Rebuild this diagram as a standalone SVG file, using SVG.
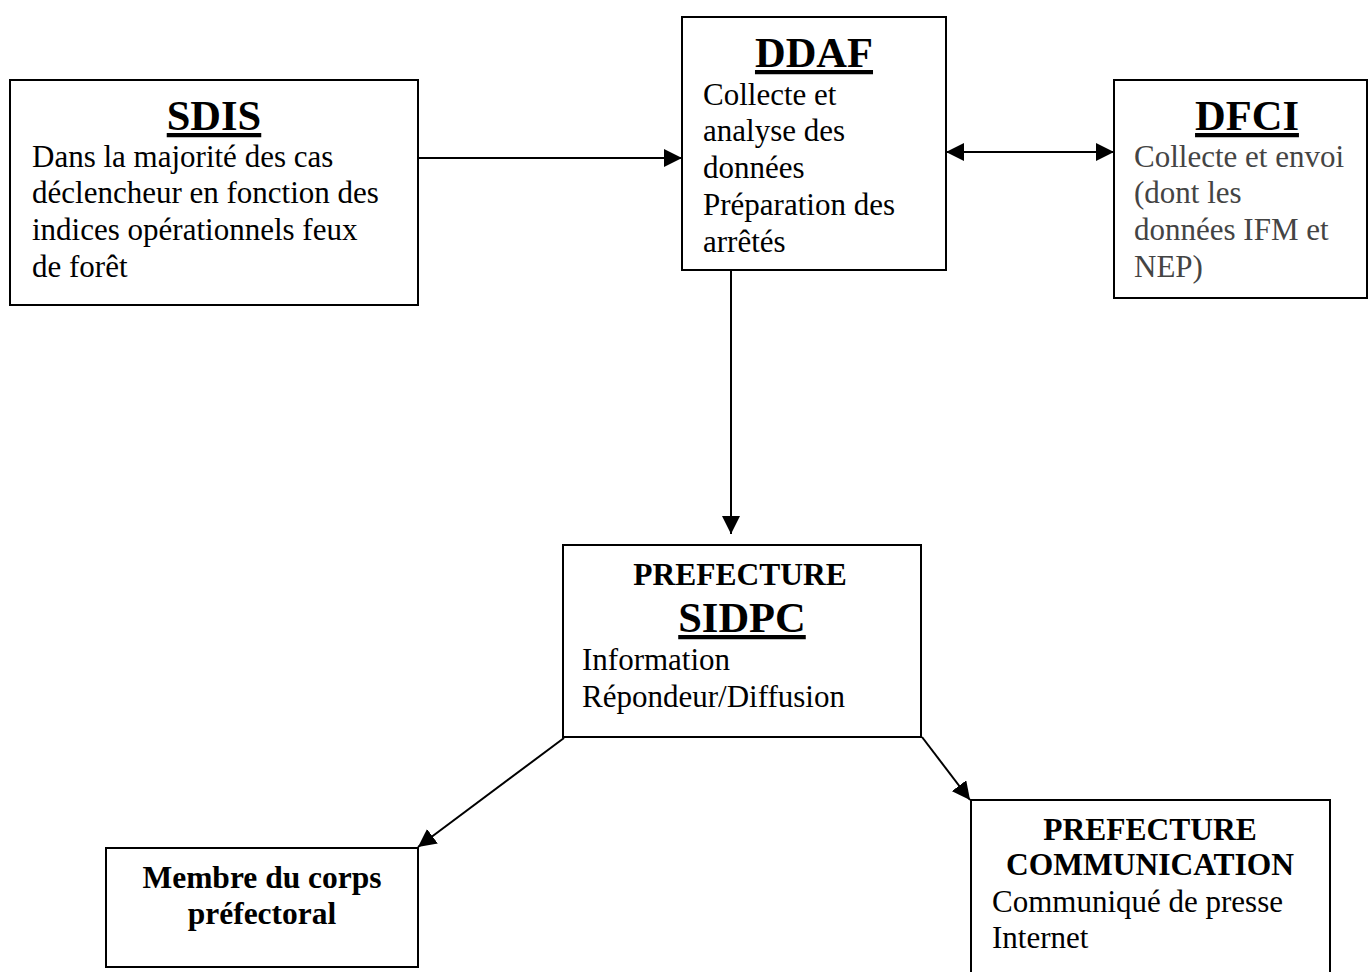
<svg xmlns="http://www.w3.org/2000/svg" width="1369" height="972" viewBox="0 0 1369 972">
<style>
.box{fill:#fff;stroke:#000;stroke-width:2}
text{font-family:"Liberation Serif","Times New Roman",serif;fill:#000}
.t{font-size:42.5px;font-weight:bold;text-decoration:underline;text-anchor:middle}
.b{font-size:31px}
.h{font-size:31.5px;font-weight:bold;text-anchor:middle}
.g{fill:#444}
.c{stroke:#000;stroke-width:2;fill:none}
</style>
<defs>
<marker id="ah" markerUnits="userSpaceOnUse" markerWidth="20" markerHeight="18" refX="18" refY="9" orient="auto-start-reverse">
<path d="M0,0 L18,9 L0,18 Z" fill="#000"/>
</marker>
</defs>
<g id="connectors">
<line class="c" x1="418" y1="158" x2="682" y2="158" marker-end="url(#ah)"/>
<line class="c" x1="946" y1="152" x2="1114" y2="152" marker-start="url(#ah)" marker-end="url(#ah)"/>
<line class="c" x1="731" y1="270" x2="731" y2="534" marker-end="url(#ah)"/>
<line class="c" x1="564" y1="738" x2="418" y2="847" marker-end="url(#ah)"/>
<line class="c" x1="922" y1="737" x2="970" y2="800" marker-end="url(#ah)"/>
</g>
<g id="sdis">
<rect class="box" x="10" y="80" width="408" height="225"/>
<text class="t" x="214" y="130">SDIS</text>
<text class="b" x="32" y="167">Dans la majorité des cas</text>
<text class="b" x="32" y="203">déclencheur en fonction des</text>
<text class="b" x="32" y="240">indices opérationnels feux</text>
<text class="b" x="32" y="277">de forêt</text>
</g>
<g id="ddaf">
<rect class="box" x="682" y="17" width="264" height="253"/>
<text class="t" x="814" y="67">DDAF</text>
<text class="b" x="703" y="105">Collecte et</text>
<text class="b" x="703" y="141">analyse des</text>
<text class="b" x="703" y="178">données</text>
<text class="b" x="703" y="215">Préparation des</text>
<text class="b" x="703" y="252">arrêtés</text>
</g>
<g id="dfci">
<rect class="box" x="1114" y="80" width="253" height="218"/>
<text class="t" x="1247" y="130">DFCI</text>
<text class="b g" x="1134" y="167">Collecte et envoi</text>
<text class="b g" x="1134" y="203">(dont les</text>
<text class="b g" x="1134" y="240">données IFM et</text>
<text class="b g" x="1134" y="277">NEP)</text>
</g>
<g id="sidpc">
<rect class="box" x="563" y="545" width="358" height="192"/>
<text class="h" x="740" y="585">PREFECTURE</text>
<text class="t" x="742" y="632">SIDPC</text>
<text class="b" x="582" y="670">Information</text>
<text class="b" x="582" y="707">Répondeur/Diffusion</text>
</g>
<g id="membre">
<rect class="box" x="106" y="848" width="312" height="119"/>
<text class="h" x="262" y="888">Membre du corps</text>
<text class="h" x="262" y="924">préfectoral</text>
</g>
<g id="communication">
<rect class="box" x="971" y="800" width="359" height="180"/>
<text class="h" x="1150" y="840">PREFECTURE</text>
<text class="h" x="1150" y="875">COMMUNICATION</text>
<text class="b" x="992" y="912">Communiqué de presse</text>
<text class="b" x="992" y="948">Internet</text>
</g>
</svg>
